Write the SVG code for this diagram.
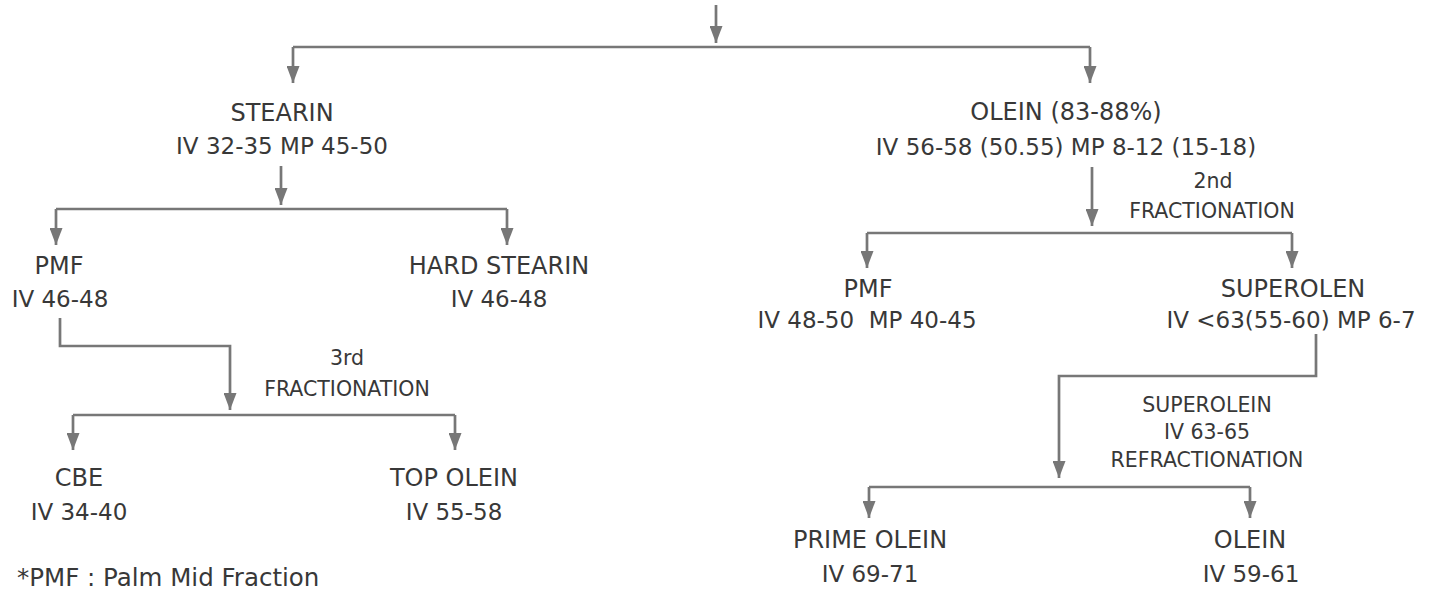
<svg xmlns="http://www.w3.org/2000/svg" width="1435" height="590" viewBox="0 0 1435 590">
<style>
text{font-family:"DejaVu Sans","Liberation Sans",sans-serif;fill:#383838;font-size:24px;text-anchor:middle}
.iv{font-size:23px}
.sm{font-size:20.5px}
.l{fill:none;stroke:#777;stroke-width:2.7}
.a{marker-end:url(#ah)}
</style>
<defs>
<marker id="ah" viewBox="0 0 17 13" refX="17" refY="6.5" markerWidth="17" markerHeight="13" markerUnits="userSpaceOnUse" orient="auto">
<path d="M0,0 L17,6.5 L0,13 z" fill="#777"/>
</marker>
</defs>
<rect width="1435" height="590" fill="#fff"/>
<g id="connectors">
<path class="l a" d="M716,5 V43"/>
<path class="l" d="M293,47 H1090"/>
<path class="l a" d="M293,47 V83"/>
<path class="l a" d="M1090,47 V83"/>
<path class="l a" d="M281,166 V205"/>
<path class="l" d="M56,209 H507"/>
<path class="l a" d="M56,209 V245"/>
<path class="l a" d="M507,209 V245"/>
<path class="l a" d="M60,318 V346 H230 V410"/>
<path class="l" d="M73,415 H455"/>
<path class="l a" d="M73,415 V450"/>
<path class="l a" d="M455,415 V450"/>
<path class="l a" d="M1092,167 V226"/>
<path class="l" d="M867,233 H1292"/>
<path class="l a" d="M867,233 V268"/>
<path class="l a" d="M1292,233 V268"/>
<path class="l a" d="M1316,334 V376 H1059 V478"/>
<path class="l" d="M869,487 H1250"/>
<path class="l a" d="M869,487 V518"/>
<path class="l a" d="M1250,487 V518"/>
</g>
<g id="stearin"><text x="282" y="121">STEARIN</text><text class="iv" x="282" y="154">IV 32-35 MP 45-50</text></g>
<g id="olein"><text x="1066" y="120">OLEIN (83-88%)</text><text class="iv" x="1066" y="155">IV 56-58 (50.55) MP 8-12 (15-18)</text></g>
<g id="label-2nd"><text class="sm" x="1213" y="188">2nd</text><text class="sm" x="1212" y="218">FRACTIONATION</text></g>
<g id="pmf-left"><text x="59" y="274">PMF</text><text class="iv" x="60" y="307">IV 46-48</text></g>
<g id="hard-stearin"><text x="499" y="274">HARD STEARIN</text><text class="iv" x="499" y="307">IV 46-48</text></g>
<g id="label-3rd"><text class="sm" x="347" y="365">3rd</text><text class="sm" x="347" y="396">FRACTIONATION</text></g>
<g id="cbe"><text x="79" y="486">CBE</text><text class="iv" x="79" y="520">IV 34-40</text></g>
<g id="top-olein"><text x="454" y="486">TOP OLEIN</text><text class="iv" x="454" y="520">IV 55-58</text></g>
<g id="footnote"><text x="17" y="586" style="text-anchor:start;font-size:24.5px">*PMF : Palm Mid Fraction</text></g>
<g id="pmf-right"><text x="868" y="297">PMF</text><text class="iv" x="867" y="328">IV 48-50&#160; MP 40-45</text></g>
<g id="superolen"><text x="1293" y="297">SUPEROLEN</text><text class="iv" x="1291" y="328">IV &lt;63(55-60) MP 6-7</text></g>
<g id="label-superolein"><text class="sm" x="1207" y="412">SUPEROLEIN</text><text class="sm" x="1207" y="439">IV 63-65</text><text class="sm" x="1207" y="467">REFRACTIONATION</text></g>
<g id="prime-olein"><text x="870" y="548">PRIME OLEIN</text><text class="iv" x="870" y="582">IV 69-71</text></g>
<g id="olein-final"><text x="1250" y="548">OLEIN</text><text class="iv" x="1251" y="582">IV 59-61</text></g>
</svg>
